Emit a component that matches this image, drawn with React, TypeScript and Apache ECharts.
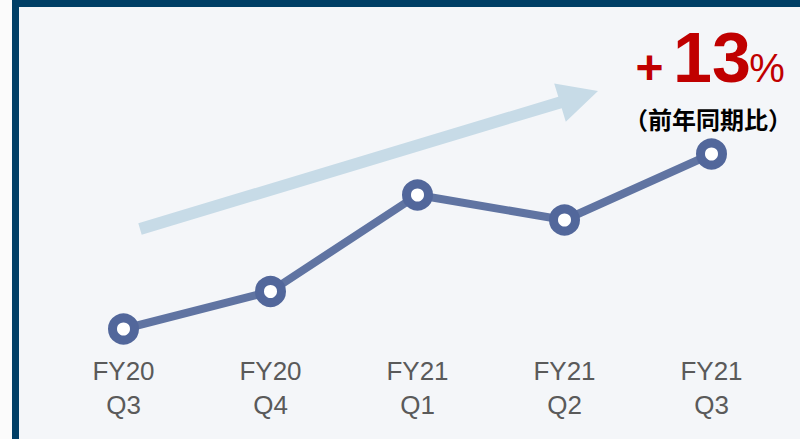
import React, { useEffect, useRef } from "react";
import * as echarts from "echarts";

const categories = ["FY20\nQ3", "FY20\nQ4", "FY21\nQ1", "FY21\nQ2", "FY21\nQ3"];
const values = [10, 25, 63.6, 53.6, 80];
const growthLabel = "13";
const noteLabel = "（前年同期比）";

export default function App() {
  const ref = useRef<HTMLDivElement>(null);
  useEffect(() => {
    if (!ref.current) return;
    const chart = echarts.init(ref.current, null, { renderer: "svg" });
    chart.setOption({
      animation: false,
      backgroundColor: "#fbfbfb",
      grid: { left: 50, right: 15, top: 104, height: 250 },
      xAxis: {
        type: "category",
        data: categories,
        boundaryGap: true,
        axisLine: { show: false },
        axisTick: { show: false },
        splitLine: { show: false },
        axisLabel: {
          margin: 0,
          color: "#5a5a5a",
          fontSize: 26,
          lineHeight: 34,
          fontFamily: "Liberation Sans, Arial, sans-serif",
        },
      },
      yAxis: { type: "value", min: 0, max: 100, show: false },
      graphic: [
        { type: "rect", z: -10, silent: true, shape: { x: 12, y: 0, width: 788, height: 439 }, style: { fill: "#003f66" } },
        { type: "rect", z: -9, silent: true, shape: { x: 19, y: 7, width: 781, height: 432 }, style: { fill: "#f4f6f9" } },
        {
          type: "polygon",
          z: -8,
          silent: true,
          shape: {
            points: [
              [138.3, 223.3],
              [558.3, 96.8],
              [554.2, 83.4],
              [598, 91],
              [565.8, 121.7],
              [561.7, 108.2],
              [141.7, 234.7],
            ],
          },
          style: { fill: "#c7dbe7" },
        },
        {
          type: "text",
          x: 649.5,
          y: 67.5,
          style: {
            text: "+",
            fill: "#c00000",
            font: "bold 48px 'Liberation Sans', Arial, sans-serif",
            align: "center",
            verticalAlign: "middle",
          },
        },
        {
          type: "text",
          x: 712,
          y: 57.5,
          style: {
            text: growthLabel,
            fill: "#c00000",
            font: "bold 70px 'Liberation Sans', Arial, sans-serif",
            align: "center",
            verticalAlign: "middle",
          },
        },
        {
          type: "text",
          x: 767,
          y: 67.5,
          style: {
            text: "%",
            fill: "#c00000",
            font: "40px 'Liberation Sans', Arial, sans-serif",
            align: "center",
            verticalAlign: "middle",
          },
        },
        {
          type: "text",
          x: 708,
          y: 118,
          style: {
            text: noteLabel,
            fill: "#000000",
            font: "bold 24px 'Noto Sans CJK JP', sans-serif",
            align: "center",
            verticalAlign: "middle",
          },
        },
      ],
      series: [
        {
          type: "line",
          data: values,
          symbol: "circle",
          symbolSize: 22,
          lineStyle: { color: "#6074a2", width: 8 },
          itemStyle: { color: "#ffffff", borderColor: "#52679b", borderWidth: 9 },
          z: 5,
        },
      ],
    });
    return () => chart.dispose();
  }, []);
  return <div ref={ref} style={{ position: "fixed", left: 0, top: 0, width: 800, height: 439 }} />;
}
